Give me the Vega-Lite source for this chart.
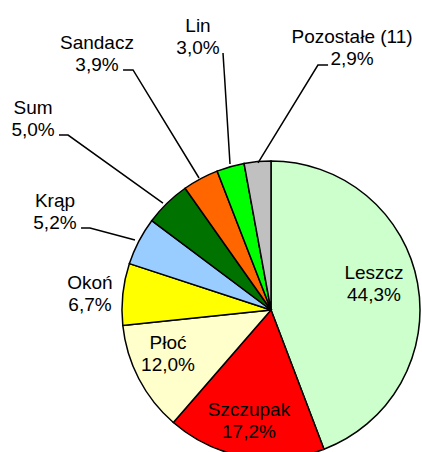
{
  "$schema": "https://vega.github.io/schema/vega-lite/v6.json",
  "width": 422,
  "height": 452,
  "autosize": "none",
  "padding": 0,
  "background": "white",
  "config": {"view": {"stroke": null}},
  "datasets": {
    "slices": [
      {"name": "Leszcz", "share": 44.3, "ord": 1},
      {"name": "Szczupak", "share": 17.2, "ord": 2},
      {"name": "Płoć", "share": 12.0, "ord": 3},
      {"name": "Okoń", "share": 6.7, "ord": 4},
      {"name": "Krąp", "share": 5.2, "ord": 5},
      {"name": "Sum", "share": 5.0, "ord": 6},
      {"name": "Sandacz", "share": 3.9, "ord": 7},
      {"name": "Lin", "share": 3.0, "ord": 8},
      {"name": "Pozostałe (11)", "share": 2.9, "ord": 9}
    ],
    "callouts": [
      {"name": "Leszcz", "text": "Leszcz\n44,3%", "lx": 0.691, "ly": 0.174},
      {"name": "Szczupak", "text": "Szczupak\n17,2%", "lx": -0.148, "ly": -0.745},
      {"name": "Płoć", "text": "Płoć\n12,0%", "lx": -0.691, "ly": -0.295},
      {"name": "Okoń", "text": "Okoń\n6,7%", "lx": -1.215, "ly": 0.107},
      {"name": "Krąp", "text": "Krąp\n5,2%", "lx": -1.450, "ly": 0.658},
      {"name": "Sum", "text": "Sum\n5,0%", "lx": -1.597, "ly": 1.279},
      {"name": "Sandacz", "text": "Sandacz\n3,9%", "lx": -1.168, "ly": 1.715},
      {"name": "Lin", "text": "Lin\n3,0%", "lx": -0.490, "ly": 1.832},
      {"name": "Pozostałe (11)", "text": "Pozostałe (11)\n2,9%", "lx": 0.544, "ly": 1.758}
    ],
    "leaders": [
      {"seg": "Pozostałe (11)", "k": 1, "lx": 0.383, "ly": 1.644},
      {"seg": "Pozostałe (11)", "k": 2, "lx": 0.315, "ly": 1.644},
      {"seg": "Pozostałe (11)", "k": 3, "lx": -0.087, "ly": 0.987},
      {"seg": "Lin", "k": 1, "lx": -0.322, "ly": 1.725},
      {"seg": "Lin", "k": 2, "lx": -0.275, "ly": 0.980},
      {"seg": "Sandacz", "k": 1, "lx": -0.993, "ly": 1.611},
      {"seg": "Sandacz", "k": 2, "lx": -0.926, "ly": 1.611},
      {"seg": "Sandacz", "k": 3, "lx": -0.483, "ly": 0.886},
      {"seg": "Sum", "k": 1, "lx": -1.423, "ly": 1.174},
      {"seg": "Sum", "k": 2, "lx": -1.362, "ly": 1.174},
      {"seg": "Sum", "k": 3, "lx": -0.725, "ly": 0.718},
      {"seg": "Krąp", "k": 1, "lx": -1.275, "ly": 0.550},
      {"seg": "Krąp", "k": 2, "lx": -1.215, "ly": 0.550},
      {"seg": "Krąp", "k": 3, "lx": -0.913, "ly": 0.470}
    ]
  },
  "layer": [
    {
      "data": {"name": "slices"},
      "mark": {"type": "arc", "radius": 149, "stroke": "black", "strokeWidth": 1.5},
      "encoding": {
        "x": {"datum": 0, "type": "quantitative", "scale": {"domain": [-1.8188, 1.0134], "nice": false, "zero": false}, "axis": null},
        "y": {"datum": 0, "type": "quantitative", "scale": {"domain": [-0.953, 2.0805], "nice": false, "zero": false}, "axis": null},
        "theta": {"field": "share", "type": "quantitative", "stack": true},
        "order": {"field": "ord"},
        "color": {
          "field": "name",
          "type": "nominal",
          "scale": {
            "domain": ["Leszcz", "Szczupak", "Płoć", "Okoń", "Krąp", "Sum", "Sandacz", "Lin", "Pozostałe (11)"],
            "range": ["#CCFFCC", "#FF0000", "#FFFFCC", "#FFFF00", "#99CCFF", "#007200", "#FF6600", "#00FF00", "#C0C0C0"]
          },
          "legend": null
        }
      }
    },
    {
      "data": {"name": "leaders"},
      "mark": {"type": "line", "color": "black", "strokeWidth": 1.5},
      "encoding": {
        "x": {"field": "lx", "type": "quantitative", "scale": {"domain": [-1.8188, 1.0134], "nice": false, "zero": false}, "axis": null},
        "y": {"field": "ly", "type": "quantitative", "scale": {"domain": [-0.953, 2.0805], "nice": false, "zero": false}, "axis": null},
        "detail": {"field": "seg"},
        "order": {"field": "k"}
      }
    },
    {
      "data": {"name": "callouts"},
      "mark": {"type": "text", "font": "Liberation Sans", "fontSize": 19, "lineHeight": 22, "lineBreak": "\n", "align": "center", "baseline": "middle", "dy": -11, "color": "black"},
      "encoding": {
        "x": {"field": "lx", "type": "quantitative", "scale": {"domain": [-1.8188, 1.0134], "nice": false, "zero": false}, "axis": null},
        "y": {"field": "ly", "type": "quantitative", "scale": {"domain": [-0.953, 2.0805], "nice": false, "zero": false}, "axis": null},
        "text": {"field": "text"}
      }
    }
  ]
}
